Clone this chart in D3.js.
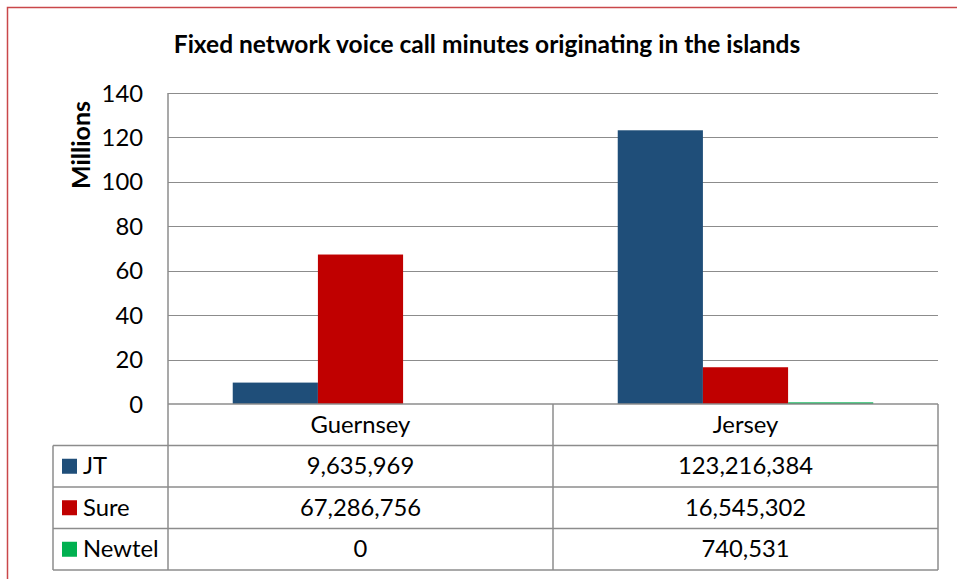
<!DOCTYPE html>
<html>
<head>
<meta charset="utf-8">
<script src="https://cdn.jsdelivr.net/npm/d3@7"></script>
<style>
  body { margin: 0; background: #fff; }
  text { font-family: Lato, "Open Sans", sans-serif; fill: #000; }
</style>
</head>
<body>
<div id="chart"></div>
<script>
const islands = ["Guernsey", "Jersey"];
const operators = ["JT", "Sure", "Newtel"];
const jtMinutes = [9635969, 123216384];
const sureMinutes = [67286756, 16545302];
const newtelMinutes = [0, 740531];
const yTicks = [0, 20, 40, 60, 80, 100, 120, 140];
const colors = ["#1f4e79", "#c00000", "#00b050"];

const width = 957, height = 579;
const plot = { left: 168, right: 938, top: 93, bottom: 404 };
const rowH = 41.5;
const tableLeft = 53;
const fontSize = '23.8px';

const series = [jtMinutes, sureMinutes, newtelMinutes];

const svg = d3.select('#chart').append('svg')
    .attr('width', width)
    .attr('height', height);

// outer border
svg.append('rect')
    .attr('x', 7.5).attr('y', 7.5)
    .attr('width', width).attr('height', height)
    .attr('fill', 'none')
    .attr('stroke', '#c9474a')
    .attr('stroke-width', 1.5);

svg.append('text')
    .attr('x', 487).attr('y', 53)
    .attr('text-anchor', 'middle')
    .style('font-size', '24.5px')
    .style('font-weight', 'bold')
    .text('Fixed network voice call minutes originating in the islands');

const x0 = d3.scaleBand().domain(islands).range([plot.left, plot.right]);
const x1 = d3.scaleBand().domain(operators).range([0, x0.bandwidth()])
    .paddingInner(0).paddingOuter(0.76);
const y = d3.scaleLinear().domain([0, 140]).range([plot.bottom, plot.top]);

// gridlines
svg.append('g').selectAll('line')
    .data(yTicks.filter(d => d > 0))
    .join('line')
    .attr('x1', plot.left).attr('x2', plot.right)
    .attr('y1', d => Math.round(y(d)) + 0.5).attr('y2', d => Math.round(y(d)) + 0.5)
    .attr('stroke', '#8c8c8c').attr('stroke-width', 1.2);

// y labels
svg.append('g').selectAll('text')
    .data(yTicks)
    .join('text')
    .attr('x', 143)
    .attr('y', d => y(d) + 8.5)
    .attr('text-anchor', 'end')
    .style('font-size', fontSize)
    .text(d => d);

svg.append('text')
    .attr('transform', 'translate(90,145) rotate(-90)')
    .attr('text-anchor', 'middle')
    .style('font-size', '25px')
    .style('font-weight', 'bold')
    .text('Millions');

// bars
const groups = svg.append('g').selectAll('g')
    .data(islands)
    .join('g')
    .attr('transform', d => `translate(${x0(d)},0)`);

groups.selectAll('rect')
    .data((d, i) => operators.map((op, j) => ({ op, value: series[j][i] / 1e6, color: colors[j] })))
    .join('rect')
    .attr('x', d => x1(d.op))
    .attr('width', x1.bandwidth())
    .attr('y', d => y(d.value))
    .attr('height', d => y(0) - y(d.value))
    .attr('fill', d => d.color);

// data table
const tableTop = plot.bottom;
const tableBottom = tableTop + rowH * 4;
const lines = svg.append('g').attr('stroke', '#8c8c8c').attr('stroke-width', 1.5);

// horizontal lines
lines.append('line').attr('x1', plot.left).attr('x2', plot.right)
    .attr('y1', tableTop).attr('y2', tableTop);
operators.forEach((op, i) => {
  const yy = tableTop + rowH * (i + 1);
  lines.append('line').attr('x1', tableLeft).attr('x2', plot.right)
      .attr('y1', yy).attr('y2', yy);
});
lines.append('line').attr('x1', tableLeft).attr('x2', plot.right)
    .attr('y1', tableBottom).attr('y2', tableBottom);

// vertical lines
lines.append('line').attr('x1', plot.left).attr('x2', plot.left)
    .attr('y1', plot.top).attr('y2', tableBottom);
lines.append('line').attr('x1', tableLeft).attr('x2', tableLeft)
    .attr('y1', tableTop + rowH).attr('y2', tableBottom);
islands.forEach(d => {
  const xx = x0(d) + x0.bandwidth();
  lines.append('line').attr('x1', xx).attr('x2', xx)
      .attr('y1', tableTop).attr('y2', tableBottom);
});

// header labels
svg.append('g').selectAll('text')
    .data(islands)
    .join('text')
    .attr('x', d => x0(d) + x0.bandwidth() / 2)
    .attr('y', tableTop + rowH / 2 + 8)
    .attr('text-anchor', 'middle')
    .style('font-size', fontSize)
    .text(d => d);

const fmt = d3.format(',');
operators.forEach((op, i) => {
  const cy = tableTop + rowH * (i + 1) + rowH / 2;
  svg.append('rect')
      .attr('x', 62).attr('y', cy - 7.5)
      .attr('width', 15).attr('height', 15)
      .attr('fill', colors[i]);
  svg.append('text')
      .attr('x', 83).attr('y', cy + 8)
      .style('font-size', fontSize)
      .text(op);
  islands.forEach((isl, j) => {
    svg.append('text')
        .attr('x', x0(isl) + x0.bandwidth() / 2)
        .attr('y', cy + 8)
        .attr('text-anchor', 'middle')
        .style('font-size', fontSize)
        .text(fmt(series[i][j]));
  });
});
</script>
</body>
</html>
